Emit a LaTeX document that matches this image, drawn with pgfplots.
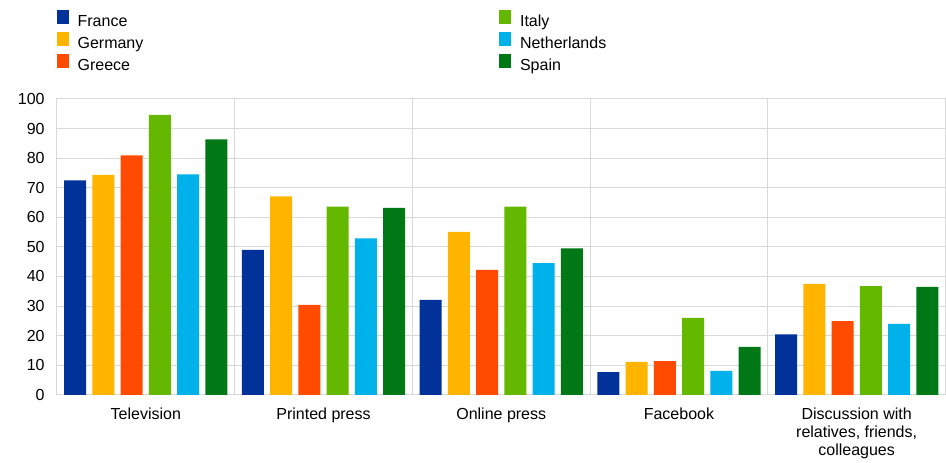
\documentclass[border=0pt]{standalone}
\usepackage{fontspec}
\setmainfont{Liberation Sans}
\usepackage{pgfplots}
\pgfplotsset{compat=1.18}
\definecolor{cFR}{HTML}{003299}
\definecolor{cDE}{HTML}{FFB400}
\definecolor{cGR}{HTML}{FF4B00}
\definecolor{cIT}{HTML}{65B800}
\definecolor{cNL}{HTML}{00B1EA}
\definecolor{cES}{HTML}{007816}
\definecolor{gridc}{HTML}{D9D9D9}
\begin{document}
\begin{tikzpicture}
\path (-42.75pt,-48.75pt) rectangle (666.75pt,296.25pt);
\begin{axis}[
  at={(0,0)}, anchor=south west,
  scale only axis, width=666.75pt, height=222pt,
  xmin=-0.5, xmax=4.5, ymin=0, ymax=100,
  ybar, bar width=16.5pt,
  xtick={0,1,2,3,4},
  xticklabels={Television,Printed press,Online press,Facebook,{Discussion with\\relatives, friends,\\colleagues}},
  minor xtick={-0.5,0.5,1.5,2.5,3.5,4.5},
  ytick={0,10,...,100},
  xminorgrids=true, ymajorgrids=true, xmajorgrids=false,
  grid style={draw=gridc, line width=0.75pt},
  minor grid style={draw=gridc, line width=0.75pt},
  major tick length=0pt, minor tick length=0pt,
  axis line style={draw=gridc, line width=0.75pt},
  /pgf/number format/assume math mode=true,
  tick label style={font=\fontsize{12}{13.5}\selectfont},
  xticklabel style={align=center, yshift=-6pt},
  yticklabel style={xshift=-5.75pt},
  legend columns=2,
  legend cell align=left,
  legend image code/.code={\fill[#1] (0pt,-1pt) rectangle (9pt,9.5pt);},
  legend style={at={(0,1)}, anchor=north west, yshift=67pt, draw=none, fill=none,
    inner sep=0pt, outer sep=0pt, row sep=0pt, column sep=0pt,
    font=\fontsize{12}{14}\selectfont,
    nodes={text height=9pt, text depth=2.5pt, inner xsep=2.5pt, inner ysep=1.3pt, text width=50pt, align=left},
    /tikz/every odd column/.append style={column sep=4pt},
    /tikz/column 2/.append style={column sep=264pt}},
]
\addplot[fill=cFR, draw=none, bar shift=-53pt] coordinates {(0,72.5) (1,49.0) (2,32.1) (3,7.7) (4,20.4)};
\addlegendentry{France}
\addplot[fill=cIT, draw=none, bar shift=10.6pt] coordinates {(0,94.6) (1,63.6) (2,63.6) (3,26.0) (4,36.7)};
\addlegendentry{Italy}
\addplot[fill=cDE, draw=none, bar shift=-31.8pt] coordinates {(0,74.3) (1,67.1) (2,55.1) (3,11.1) (4,37.5)};
\addlegendentry{Germany}
\addplot[fill=cNL, draw=none, bar shift=31.8pt] coordinates {(0,74.5) (1,52.9) (2,44.5) (3,8.1) (4,24.0)};
\addlegendentry{Netherlands}
\addplot[fill=cGR, draw=none, bar shift=-10.6pt] coordinates {(0,80.9) (1,30.4) (2,42.2) (3,11.4) (4,24.9)};
\addlegendentry{Greece}
\addplot[fill=cES, draw=none, bar shift=53pt] coordinates {(0,86.3) (1,63.2) (2,49.5) (3,16.2) (4,36.5)};
\addlegendentry{Spain}
\end{axis}
\end{tikzpicture}
\end{document}
